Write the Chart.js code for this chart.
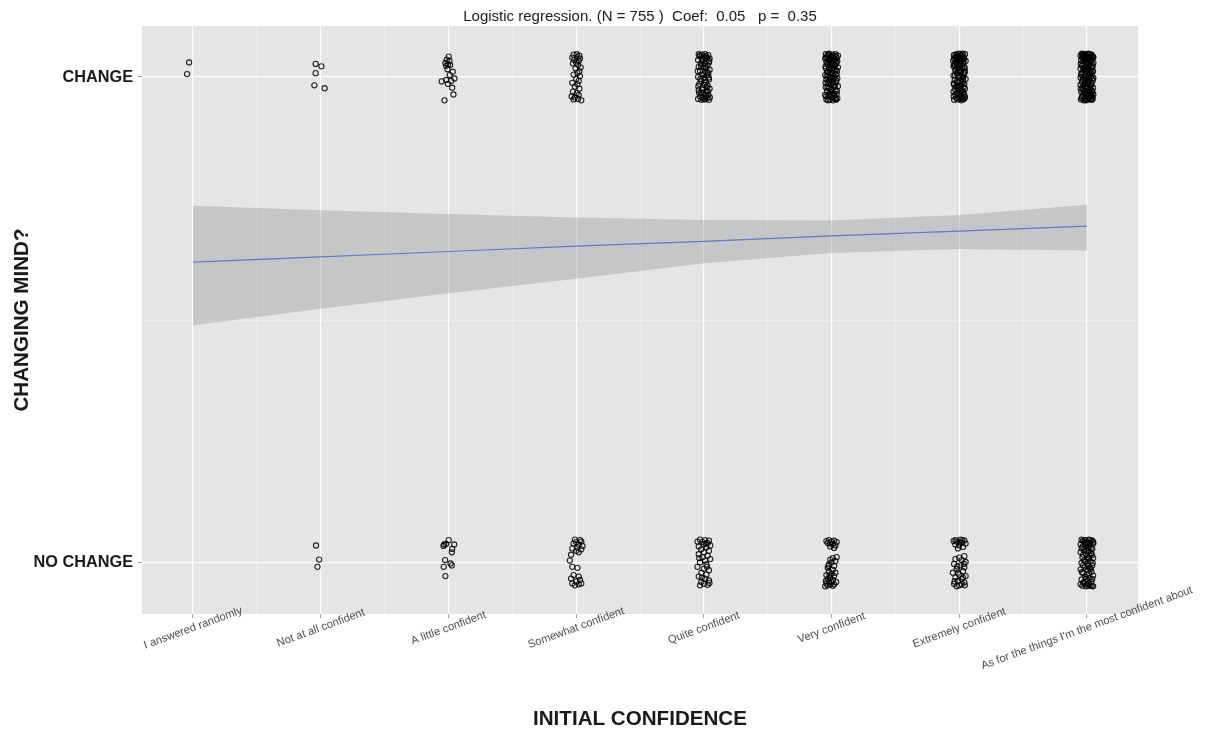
<!DOCTYPE html>
<html>
<head>
<meta charset="utf-8">
<title>Changing mind by initial confidence</title>
<script src="https://cdn.jsdelivr.net/npm/chart.js@4.4.1/dist/chart.umd.min.js"></script>
<style>
  html, body { margin: 0; padding: 0; background: #ffffff; }
  #wrap { width: 1207px; height: 729px; }
</style>
</head>
<body>
<div id="wrap"><canvas id="chart" width="1207" height="729"></canvas></div>
<script>
// Confidence levels along the x axis (positions 1..8)
const categories = [
  'I answered randomly',
  'Not at all confident',
  'A little confident',
  'Somewhat confident',
  'Quite confident',
  'Very confident',
  'Extremely confident',
  "As for the things I'm the most confident about"
];

// Outcome coding on the y axis
const outcomeValues = [0, 1];
const outcomeLabels = ['NO CHANGE', 'CHANGE'];

// Jittered observations, per confidence level: [dx, dy] offsets in thousandths of a unit
const changeJitter = [
  [[-31,30],[-47,6]],
  [[-40,27],[5,22],[-40,8],[-50,-17],[30,-23]],
  [[2,42],[-13,36],[8,33],[-24,29],[-3,26],[-18,23],[13,25],[-8,16],[34,11],[10,4],[47,-3],[-18,-6],[21,-8],[-53,-9],[-5,-14],[29,-22],[39,-36],[-31,-48]],
  [[-20,46],[5,47],[25,44],[-30,40],[10,41],[30,38],[-15,35],[20,33],[0,30],[-25,28],[15,25],[35,20],[-5,18],[25,12],[10,8],[-20,5],[30,2],[0,-4],[20,-8],[-30,-12],[10,-15],[-10,-20],[25,-24],[-25,-30],[5,-33],[20,-37],[-35,-40],[-10,-42],[15,-45],[-20,-46],[40,-48]],
  [[-40,47],[-15,46],[10,47],[35,45],[-30,42],[0,41],[25,40],[45,38],[-45,35],[-10,34],[15,33],[40,30],[-25,28],[5,27],[30,24],[-40,21],[-5,20],[20,18],[45,15],[-30,12],[10,11],[35,8],[-15,5],[25,3],[-45,0],[0,-2],[40,-5],[-20,-8],[15,-10],[-35,-14],[5,-16],[30,-18],[-10,-22],[45,-24],[-40,-27],[20,-29],[-20,-32],[5,-35],[35,-37],[-30,-40],[-5,-42],[25,-43],[-45,-45],[10,-46],[40,-47],[-20,-47],
   [-33,44],[18,43],[-8,37],[42,33],[-22,23],[12,20],[-48,12],[28,9],[-3,6],[38,-1],[-27,-4],[8,-6],[-43,-19],[22,-21],[-13,-26],[33,-30],[-37,-33],[17,-39],[-3,-45],[47,-42]],
  [[-45,47],[-20,48],[5,46],[30,47],[50,44],[-35,43],[-10,42],[15,41],[40,40],[-50,38],[-25,37],[0,36],[25,35],[45,33],[-40,31],[-15,30],[10,29],[35,27],[-30,25],[-5,23],[20,22],[50,20],[-45,18],[-20,16],[5,15],[30,14],[-35,11],[-10,9],[15,8],[40,6],[-50,4],[-25,3],[0,1],[25,-1],[45,-3],[-40,-5],[-15,-7],[10,-9],[35,-11],[-30,-13],[-5,-15],[20,-17],[50,-19],[-45,-21],[-20,-23],[5,-25],[30,-27],[-35,-29],[-10,-31],[15,-33],[40,-35],[-50,-37],[-25,-39],[0,-41],[25,-43],[45,-44],[-40,-46],[-15,-47],[10,-48],[35,-47],
   [-27,46],[12,44],[33,42],[-43,40],[-3,39],[22,37],[-17,34],[38,31],[-33,28],[7,26],[27,24],[-47,22],[-8,19],[17,17],[42,13],[-28,10],[2,7],[32,4],[-38,1],[-12,-2],[12,-4],[37,-7],[-22,-10],[-47,-12],[7,-13],[27,-20],[-32,-22],[-2,-27],[42,-29],[-17,-36],[22,-38],[-42,-40],[7,-44],[32,-45],[-28,-48]],
  [[-30,46],[0,48],[20,45],[45,47],[-10,43],[35,42],[10,40],[-40,38],[25,37],[-20,35],[50,33],[5,32],[-35,29],[30,28],[-5,26],[15,24],[-45,22],[40,21],[-15,19],[25,17],[0,14],[-30,13],[45,11],[10,9],[-20,7],[35,5],[-45,3],[20,1],[-5,-1],[50,-4],[-35,-6],[5,-8],[30,-10],[-15,-12],[40,-14],[-40,-16],[15,-18],[-25,-20],[0,-22],[45,-24],[-10,-26],[25,-28],[-45,-30],[35,-32],[10,-34],[-30,-36],[-5,-38],[20,-40],[45,-41],[-20,-43],[5,-45],[30,-46],[-40,-47],[15,-48],[-15,-46],[40,-44],[-35,25],[30,-2],[-25,40],[15,-30],
   [-17,47],[28,48],[-42,45],[13,44],[-27,41],[3,39],[38,38],[-8,36],[18,34],[-48,33],[33,31],[-22,30],[8,27],[-38,24],[23,22],[-3,20],[43,18],[-28,16],[13,13],[-13,10],[38,8],[-33,4],[3,2],[28,-6],[-18,-9],[-43,-13],[18,-15],[-8,-19],[33,-21],[-33,-25],[8,-29],[-18,-33],[38,-37],[-43,-40],[23,-43]],
  [[-40,48],[-15,47],[10,48],[35,46],[-50,44],[-25,43],[0,44],[25,42],[48,41],[-35,39],[-10,38],[15,37],[40,36],[-45,34],[-20,33],[5,32],[30,31],[50,29],[-30,28],[-5,27],[20,26],[45,24],[-40,23],[-15,21],[10,20],[35,19],[-50,17],[-25,16],[0,15],[25,13],[48,12],[-35,10],[-10,9],[15,7],[40,6],[-45,4],[-20,3],[5,1],[30,0],[50,-2],[-30,-3],[-5,-5],[20,-6],[45,-8],[-40,-10],[-15,-11],[10,-13],[35,-14],[-50,-16],[-25,-17],[0,-19],[25,-20],[48,-22],[-35,-23],[-10,-25],[15,-27],[40,-28],[-45,-30],[-20,-31],[5,-33],[30,-34],[50,-36],[-30,-37],[-5,-39],[20,-40],[45,-42],[-40,-43],[-15,-45],[10,-46],[35,-47],[-25,-48],[0,-47],[-50,-1],[50,40],[-5,42],
   [-28,46],[23,47],[-7,45],[42,44],[-38,41],[13,40],[-18,36],[33,34],[-3,30],[-48,27],[18,23],[43,21],[-28,19],[3,17],[-13,14],[38,11],[-43,7],[22,5],[-8,2],[42,-4],[-33,-7],[13,-9],[-18,-14],[33,-17],[-3,-22],[-48,-24],[23,-25],[-28,-27],[43,-31],[8,-30],[-13,-34],[33,-38],[-38,-40],[18,-43],[-8,-48],[43,-46],[-47,-46],[28,-45],[-33,46],[3,-12]]
];

const noChangeJitter = [
  [],
  [[-37,36],[-13,7],[-26,-8]],
  [[2,47],[-34,38],[-18,39],[-39,35],[45,38],[29,29],[26,22],[-26,6],[16,-1],[26,-5],[-37,-8],[-24,-27]],
  [[-10,48],[30,47],[0,43],[40,44],[-20,40],[20,38],[50,35],[10,32],[-30,30],[40,28],[0,25],[20,22],[-40,17],[-50,5],[-30,-8],[10,-10],[-20,-25],[20,-28],[-40,-32],[30,-35],[0,-38],[-30,-42],[20,-44],[-10,-46],[40,-42]],
  [[-30,48],[10,47],[40,46],[-10,43],[30,41],[0,38],[50,36],[-40,34],[20,32],[-20,28],[40,25],[0,22],[-40,18],[30,15],[-10,12],[50,8],[10,5],[-30,1],[20,-3],[-50,-8],[0,-12],[40,-15],[-20,-20],[20,-24],[-40,-28],[10,-32],[40,-36],[-20,-39],[0,-43],[30,-45],[-30,-46],[-50,44],[16,40],[-16,-30],[44,-41],[-36,10],[24,-8]],
  [[-20,47],[20,46],[0,44],[40,43],[-30,41],[10,39],[30,36],[-10,34],[20,31],[40,12],[10,10],[-10,7],[30,4],[0,1],[-20,-3],[20,-6],[-30,-10],[10,-14],[-20,-18],[0,-22],[-40,-25],[20,-27],[-10,-30],[-30,-33],[10,-35],[-20,-38],[0,-40],[-40,-42],[-10,-44],[-30,-46],[-50,-48],[20,-44],[-40,45],[-10,40],[-24,-6],[30,-20],[-44,-37],[10,-47],[-16,-26],[36,-39]],
  [[-30,47],[10,48],[40,46],[-20,44],[20,42],[50,40],[-30,38],[0,36],[30,33],[-10,30],[40,14],[0,11],[-30,8],[20,6],[50,2],[-40,-2],[10,-5],[40,-9],[-20,-13],[30,-17],[-50,-20],[0,-24],[50,-27],[-30,-30],[20,-33],[-10,-37],[40,-40],[-40,-43],[0,-46],[-20,-48],[-44,45],[24,47],[0,43],[-16,-7],[36,-2],[-36,-38],[20,-44],[-10,-20],[30,-30],[44,-46]],
  [[-42,48],[-14,47],[14,48],[42,46],[-28,44],[0,43],[28,42],[50,40],[-49,38],[-7,37],[21,35],[-35,33],[7,31],[42,29],[-21,27],[14,25],[-49,22],[35,20],[-7,18],[21,15],[-35,12],[49,10],[7,8],[-21,5],[28,3],[-42,0],[0,-2],[42,-5],[-14,-8],[21,-10],[-49,-13],[7,-15],[35,-18],[-28,-21],[0,-24],[49,-26],[-14,-29],[21,-31],[-42,-34],[7,-36],[35,-39],[-21,-41],[0,-44],[28,-46],[-35,-47],[49,-48],[14,-47],
   [-31,46],[28,47],[49,43],[-17,41],[11,39],[-42,30],[31,31],[-4,24],[39,16],[-28,17],[14,11],[-11,3],[45,0],[-31,-5],[11,-6],[31,-12],[-39,-19],[17,-21],[-7,-33],[42,-33],[-28,-40],[14,-42],[-49,-44],[-7,-48],[39,-47]]
];

// Logistic fit (probability of change) with its confidence band
const fitX = [1, 2, 3, 4, 5, 6, 7, 8];
const fitMean = [0.619, 0.630, 0.641, 0.652, 0.662, 0.673, 0.683, 0.693];
const fitUpper = [0.735, 0.726, 0.718, 0.711, 0.706, 0.705, 0.716, 0.737];
const fitLower = [0.489, 0.523, 0.555, 0.585, 0.617, 0.638, 0.646, 0.643];

const titleText = 'Logistic regression. (N = 755 )  Coef:  0.05   p =  0.35';
const xTitle = 'INITIAL CONFIDENCE';
const yTitle = 'CHANGING MIND?';

const FONT = '"Liberation Sans", Arial, Helvetica, sans-serif';

function jitteredPoints(jitterSets, outcome) {
  const pts = [];
  jitterSets.forEach((set, i) => {
    set.forEach(([dx, dy]) => pts.push({ x: i + 1 + dx / 1000, y: outcome + dy / 1000 }));
  });
  return pts;
}

function curve(values) {
  return fitX.map((x, i) => ({ x, y: values[i] }));
}

// Grey plotting panel behind the grid
const panelBackground = {
  id: 'panelBackground',
  beforeDraw(chart) {
    const { ctx, chartArea: { left, top, width, height } } = chart;
    ctx.save();
    ctx.fillStyle = '#e5e5e5';
    ctx.fillRect(left, top, width, height);
    ctx.restore();
  }
};

// Category labels under the x axis, tilted and centred on each tick
const categoryLabels = {
  id: 'categoryLabels',
  afterDraw(chart) {
    const { ctx, chartArea, scales: { x } } = chart;
    ctx.save();
    ctx.font = '11.2px ' + FONT;
    ctx.fillStyle = '#4d4d4d';
    ctx.textAlign = 'center';
    ctx.textBaseline = 'middle';
    categories.forEach((label, i) => {
      const px = x.getPixelForValue(i + 1);
      ctx.save();
      ctx.translate(px, chartArea.bottom + 14);
      ctx.rotate(-20 * Math.PI / 180);
      ctx.fillText(label, 0, 0);
      ctx.restore();
    });
    ctx.restore();
  }
};

const isMajor = (v) => Math.abs(v - Math.round(v)) < 1e-9;

const pointStyleOpts = {
  pointStyle: 'circle',
  pointRadius: 2.6,
  borderWidth: 1.1,
  borderColor: 'rgba(0,0,0,0.85)',
  backgroundColor: 'rgba(0,0,0,0)'
};

new Chart(document.getElementById('chart'), {
  type: 'scatter',
  data: {
    datasets: [
      {
        type: 'line',
        label: 'upper',
        data: curve(fitUpper),
        borderWidth: 0,
        pointRadius: 0,
        fill: '+1',
        backgroundColor: 'rgba(153,153,153,0.4)'
      },
      {
        type: 'line',
        label: 'lower',
        data: curve(fitLower),
        borderWidth: 0,
        pointRadius: 0,
        fill: false
      },
      {
        type: 'line',
        label: 'fit',
        data: curve(fitMean),
        borderColor: '#3366FF',
        borderWidth: 1.2,
        pointRadius: 0,
        fill: false
      },
      Object.assign({ label: outcomeLabels[1], data: jitteredPoints(changeJitter, outcomeValues[1]) }, pointStyleOpts),
      Object.assign({ label: outcomeLabels[0], data: jitteredPoints(noChangeJitter, outcomeValues[0]) }, pointStyleOpts)
    ]
  },
  options: {
    responsive: false,
    animation: false,
    events: [],
    layout: { padding: { left: 0, right: 69, top: 0, bottom: 0 } },
    plugins: {
      legend: { display: false },
      tooltip: { enabled: false },
      title: {
        display: true,
        text: titleText,
        fullSize: false,
        color: '#1a1a1a',
        font: { family: FONT, size: 15, weight: 'normal', lineHeight: 1.2 },
        padding: { top: 8, bottom: 0 }
      }
    },
    scales: {
      x: {
        type: 'linear',
        min: 0.6,
        max: 8.4,
        afterBuildTicks(scale) {
          const ticks = [];
          categories.forEach((c, i) => {
            ticks.push({ value: i + 1 });
            if (i < categories.length - 1) ticks.push({ value: i + 1.5 });
          });
          scale.ticks = ticks;
        },
        afterFit(scale) { scale.height = 115; },
        ticks: { display: false },
        border: { display: false },
        grid: {
          drawTicks: true,
          tickLength: 4,
          color: (ctx) => (ctx.tick && isMajor(ctx.tick.value)) ? '#ffffff' : 'rgba(255,255,255,0.55)',
          lineWidth: (ctx) => (ctx.tick && isMajor(ctx.tick.value)) ? 1.2 : 0.6,
          tickColor: (ctx) => (ctx.tick && isMajor(ctx.tick.value)) ? '#9a9a9a' : 'rgba(0,0,0,0)',
          tickWidth: 1
        },
        title: {
          display: true,
          text: xTitle,
          color: '#1a1a1a',
          font: { family: FONT, size: 20.6, weight: 'bold', lineHeight: 1 },
          padding: { top: 0, bottom: -1 }
        }
      },
      y: {
        type: 'linear',
        min: -0.105,
        max: 1.105,
        afterBuildTicks(scale) {
          scale.ticks = [{ value: outcomeValues[0] }, { value: 0.5 }, { value: outcomeValues[1] }];
        },
        afterFit(scale) { scale.width = 142; },
        border: { display: false },
        ticks: {
          padding: 5,
          color: '#1a1a1a',
          font: { family: FONT, size: 16.3, weight: 'bold' },
          callback: (value) => {
            const idx = outcomeValues.indexOf(value);
            return idx >= 0 ? outcomeLabels[idx] : '';
          }
        },
        grid: {
          drawTicks: true,
          tickLength: 4,
          color: (ctx) => (ctx.tick && isMajor(ctx.tick.value)) ? '#ffffff' : 'rgba(255,255,255,0.55)',
          lineWidth: (ctx) => (ctx.tick && isMajor(ctx.tick.value)) ? 1.2 : 0.6,
          tickColor: (ctx) => (ctx.tick && isMajor(ctx.tick.value)) ? '#9a9a9a' : 'rgba(0,0,0,0)',
          tickWidth: 1
        },
        title: {
          display: true,
          text: yTitle,
          color: '#1a1a1a',
          font: { family: FONT, size: 20.6, weight: 'bold', lineHeight: 1.2 },
          padding: { top: 10, bottom: 0 }
        }
      }
    }
  },
  plugins: [panelBackground, categoryLabels]
});
</script>
</body>
</html>
